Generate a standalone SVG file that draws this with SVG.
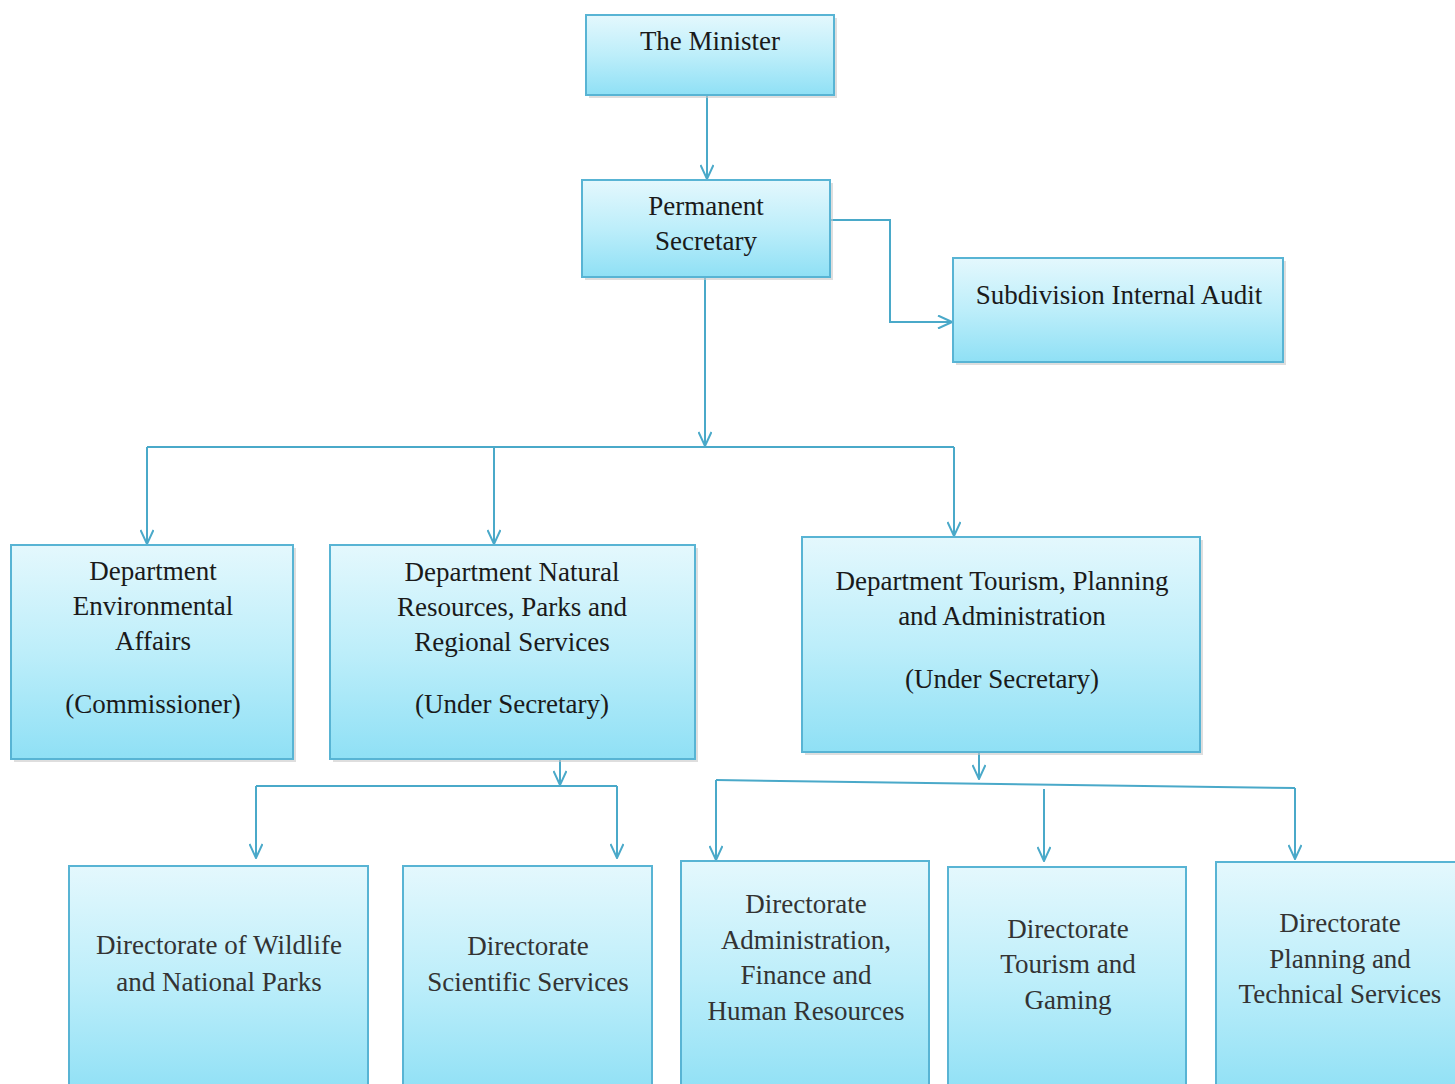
<svg xmlns="http://www.w3.org/2000/svg" width="1455" height="1084" viewBox="0 0 1455 1084">
<defs>
<linearGradient id="g" x1="0" y1="0" x2="0" y2="1">
<stop offset="0" stop-color="#e4f8fd"/>
<stop offset="0.5" stop-color="#bdeefa"/>
<stop offset="1" stop-color="#8fe0f5"/>
</linearGradient>
<marker id="a" viewBox="0 0 16 14" refX="15" refY="7" markerWidth="16" markerHeight="14" markerUnits="userSpaceOnUse" orient="auto">
<path d="M1,0.5 L15,7 L1,13.5" fill="none" stroke="#4aa9c9" stroke-width="2"/>
</marker>
</defs>
<style>
.box{fill:url(#g);stroke:#58b4d4;stroke-width:2}
.sh{fill:#c8c8c8;opacity:0.6}
.t{font-family:'Liberation Serif','Times New Roman','DejaVu Serif',serif;font-size:27px;fill:#1a1a1a;text-anchor:middle}
.t2{fill:#333}
.c{fill:none;stroke:#4aa9c9;stroke-width:2}
</style>
<rect width="1455" height="1084" fill="#ffffff"/>
<g id="connectors">
<path class="c" d="M707,95 V179" marker-end="url(#a)"/>
<path class="c" d="M830,220 H890 V322 H952" marker-end="url(#a)"/>
<path class="c" d="M705,277 V446" marker-end="url(#a)"/>
<path class="c" d="M147,447 H954"/>
<path class="c" d="M147,447 V544" marker-end="url(#a)"/>
<path class="c" d="M494,447 V544" marker-end="url(#a)"/>
<path class="c" d="M954,447 V536" marker-end="url(#a)"/>
<path class="c" d="M560,759 V785" marker-end="url(#a)"/>
<path class="c" d="M256,786 H617"/>
<path class="c" d="M256,786 V858" marker-end="url(#a)"/>
<path class="c" d="M617,786 V858" marker-end="url(#a)"/>
<path class="c" d="M979,752 V779" marker-end="url(#a)"/>
<path class="c" d="M716,780 L1295,788"/>
<path class="c" d="M716,780 V860" marker-end="url(#a)"/>
<path class="c" d="M1295,788 V859" marker-end="url(#a)"/>
<path class="c" d="M1044,789 V861" marker-end="url(#a)"/>
</g>
<g id="minister">
<rect class="sh" x="589" y="18" width="248" height="80"/>
<rect class="box" x="586" y="15" width="248" height="80"/>
<text class="t" x="710" y="50">The Minister</text>
</g>
<g id="permanent-secretary">
<rect class="sh" x="585" y="183" width="248" height="97"/>
<rect class="box" x="582" y="180" width="248" height="97"/>
<text class="t" x="706" y="215">Permanent</text>
<text class="t" x="706" y="250">Secretary</text>
</g>
<g id="internal-audit">
<rect class="sh" x="956" y="261" width="330" height="104"/>
<rect class="box" x="953" y="258" width="330" height="104"/>
<text class="t" x="1119" y="304">Subdivision Internal Audit</text>
</g>
<g id="dept-environmental">
<rect class="sh" x="14" y="548" width="282" height="214"/>
<rect class="box" x="11" y="545" width="282" height="214"/>
<text class="t" x="153" y="580">Department</text>
<text class="t" x="153" y="615">Environmental</text>
<text class="t" x="153" y="650">Affairs</text>
<text class="t" x="153" y="713">(Commissioner)</text>
</g>
<g id="dept-natural">
<rect class="sh" x="333" y="548" width="365" height="214"/>
<rect class="box" x="330" y="545" width="365" height="214"/>
<text class="t" x="512" y="581">Department Natural</text>
<text class="t" x="512" y="616">Resources, Parks and</text>
<text class="t" x="512" y="651">Regional Services</text>
<text class="t" x="512" y="713">(Under Secretary)</text>
</g>
<g id="dept-tourism">
<rect class="sh" x="805" y="540" width="398" height="215"/>
<rect class="box" x="802" y="537" width="398" height="215"/>
<text class="t" x="1002" y="590">Department Tourism, Planning</text>
<text class="t" x="1002" y="625">and Administration</text>
<text class="t" x="1002" y="688">(Under Secretary)</text>
</g>
<g id="dir-wildlife">
<rect class="box" x="69" y="866" width="299" height="230"/>
<text class="t t2" x="219" y="954">Directorate of Wildlife</text>
<text class="t t2" x="219" y="991">and National Parks</text>
</g>
<g id="dir-scientific">
<rect class="box" x="403" y="866" width="249" height="230"/>
<text class="t t2" x="528" y="955">Directorate</text>
<text class="t t2" x="528" y="991">Scientific Services</text>
</g>
<g id="dir-admin">
<rect class="box" x="681" y="861" width="248" height="235"/>
<text class="t t2" x="806" y="913">Directorate</text>
<text class="t t2" x="806" y="949">Administration,</text>
<text class="t t2" x="806" y="984">Finance and</text>
<text class="t t2" x="806" y="1020">Human Resources</text>
</g>
<g id="dir-tourism">
<rect class="box" x="948" y="867" width="238" height="229"/>
<text class="t t2" x="1068" y="938">Directorate</text>
<text class="t t2" x="1068" y="973">Tourism and</text>
<text class="t t2" x="1068" y="1009">Gaming</text>
</g>
<g id="dir-planning">
<rect class="box" x="1216" y="862" width="250" height="234"/>
<text class="t t2" x="1340" y="932">Directorate</text>
<text class="t t2" x="1340" y="968">Planning and</text>
<text class="t t2" x="1340" y="1003">Technical Services</text>
</g>
</svg>
